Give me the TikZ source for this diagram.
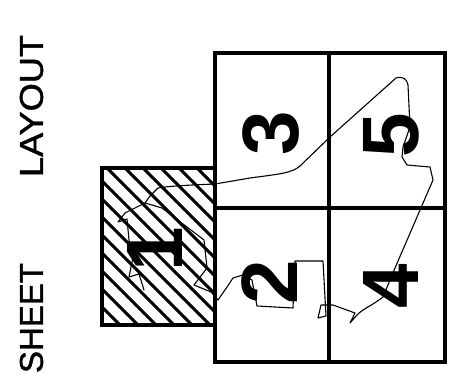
\documentclass[tikz,border=0pt]{standalone}
\usepackage{fontspec}
\newfontfamily\labfont{Liberation Sans}[FakeBold=1.2]
\newfontfamily\digfont{Liberation Sans}
\begin{document}
\begin{tikzpicture}[x=1pt,y=-1pt,
  dig/.style={rotate=90,inner sep=0pt,font=\digfont\bfseries\fontsize{80}{80}\selectfont},
  lab/.style={rotate=90,inner sep=0pt},
  hatch/.style={line width=3pt},
  route/.style={line width=1.1pt,line join=round,line cap=round},
  frame/.style={line width=3.6pt}]
\useasboundingbox (0,0) rectangle (466,382);
% hatched sheet 1
\begin{scope}
  \clip (102,168) rectangle (215,325);
  \foreach \c in {-47,-29,...,240} \draw[hatch] (90,90+\c) -- (230,230+\c);
\end{scope}
\draw[frame,line width=4.4pt] (102,168) rectangle (215,325);
% grid of sheets 2-5
\draw[frame] (215,53) rectangle (445,362);
\draw[frame] (329,53) -- (329,362);
\draw[frame] (215,208) -- (445,208);
% route line
\coordinate (r0) at (215,184);
\draw[route] (r0) .. controls (190,185) and (170,186) .. (158,188) -- (150,196) -- (145,203) -- (162,208) -- (204,240) -- (207,268) -- (194,285) -- (211,292) -- (218,300) -- (227,287) -- (233,278) -- (243,275) -- (252,280) -- (257,306) -- (293,308) -- (295,261) -- (323,261) -- (326,316) -- (318,318) -- (321,305) -- (333,305) -- (355,313) -- (350,323) -- (357,315) .. controls (364,308) and (370,307) .. (383,297) -- (395,268) -- (433,180) -- (430,167) -- (407,165) -- (402,157) -- (403,147) -- (410,127) -- (408,85) .. controls (407,79) and (403,76) .. (396,78) -- (330,137) -- (300,166) .. controls (292,173) and (280,174) .. (250,178) -- (r0);
\draw[route] (145,203) -- (125,213) -- (118,222) -- (127,219) -- (129,240) -- (133,257) -- (129,277) -- (139,274) -- (144,290);
% numbers
\node[dig] (n1) at (155,249) {1};
\node[dig] (n2) at (270,282) {2};
\node[dig] (n3) at (271,133) {3};
\node[dig] (n4) at (391,286) {4};
\node[dig] (n5) at (391,135) {5};
% title
\node[lab] (sheet) at (31.5,318) {\resizebox{110pt}{23pt}{\labfont SHEET}};
\node[lab] (layout) at (31.5,106) {\resizebox{142pt}{23pt}{\labfont LAYOUT}};
\end{tikzpicture}
\end{document}
